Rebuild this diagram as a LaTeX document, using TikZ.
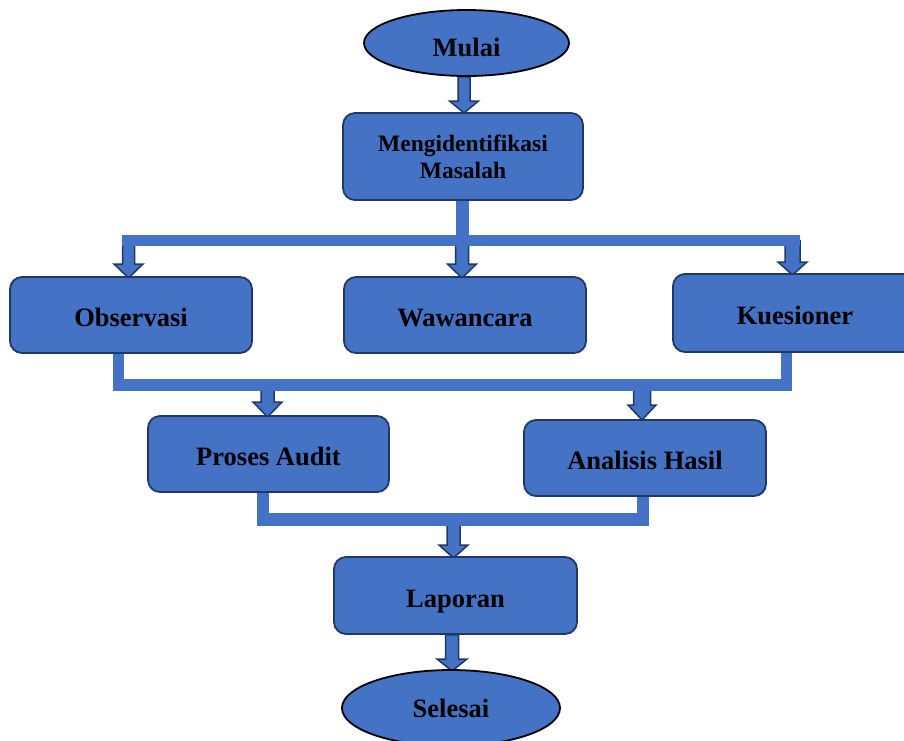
\documentclass[tikz,border=0pt]{standalone}
\usepackage{fontspec}
\setmainfont{Liberation Serif}
\usetikzlibrary{calc,shapes.geometric,backgrounds}
\definecolor{boxblue}{HTML}{4472C4}
\definecolor{navy}{HTML}{1F3864}

\tikzset{
  procbox/.style={draw=navy, line width=1.8pt, fill=boxblue, rounded corners=12pt,
    inner sep=0pt, align=center, text height=23.5pt, text depth=0pt,
    font=\fontsize{26.5}{30}\selectfont\bfseries},
  terminal/.style={ellipse, draw=black, line width=1.8pt, fill=boxblue, inner sep=0pt,
    text height=26pt, text depth=0pt, font=\fontsize{26.5}{30}\selectfont\bfseries},
  bar/.style={draw=boxblue, line width=11.5pt, line join=miter, line cap=butt},
  blockarrow/.style={draw=navy, line width=1.5pt, fill=boxblue, line join=miter},
}

% downward block arrow: #1 start, #2 tip, #3 shaft half width, #4 head half width, #5 head length
\newcommand{\blockdown}[5]{%
  \coordinate (ba-top) at (#2 |- #1);
  \draw[blockarrow] ($(ba-top)+(-#3,0)$) -- ($(#2)+(-#3,-#5)$) -- ($(#2)+(-#4,-#5)$)
    -- (#2) -- ($(#2)+(#4,-#5)$) -- ($(#2)+(#3,-#5)$) -- ($(ba-top)+(#3,0)$) -- cycle;}

\begin{document}
\begin{tikzpicture}[x=1pt, y=-1pt]
\useasboundingbox (0,0) rectangle (904,740);
\clip (0,0) rectangle (904,740);

% nodes
\node[terminal, minimum width=205pt, minimum height=66pt] (mulai) at (466.5,43) {Mulai};
\node[procbox, minimum width=240pt, minimum height=87pt, text height=, text depth=,
  font=\fontsize{23.5}{27}\selectfont\bfseries] (ident) at (463,156.5) {Mengidentifikasi\\Masalah};
\node[procbox, minimum width=242pt, minimum height=76pt] (obs) at (131,315) {Observasi};
\node[procbox, minimum width=242pt, minimum height=76pt] (waw) at (465,315) {Wawancara};
\node[procbox, minimum width=244pt, minimum height=78pt] (kue) at (795,313) {Kuesioner};
\node[procbox, minimum width=241pt, minimum height=76pt] (audit) at (268.5,454) {Proses Audit};
\node[procbox, minimum width=242pt, minimum height=76pt] (hasil) at (645,458) {Analisis Hasil};
\node[procbox, minimum width=243pt, minimum height=77pt] (lap) at (455.5,595.5) {Laporan};
\node[terminal, minimum width=218pt, minimum height=76pt, text height=18pt] (selesai) at (451,708) {Selesai};

% junction points of the connector bars
\coordinate (b1l) at (122,240.5);
\coordinate (b1m) at (462.5,240.5);
\coordinate (b1r) at (800,240.5);
\coordinate (m1l) at (118.5,385);
\coordinate (m1r) at (786.5,385);
\coordinate (m1a) at (267.5,385);
\coordinate (m1b) at (642,385);
\coordinate (m2l) at (263,519.5);
\coordinate (m2m) at (453.5,519.5);
\coordinate (m2r) at (643,519.5);

% arrow tips
\coordinate (t0) at (464,113);
\coordinate (t1) at (128.5,278);
\coordinate (t2) at (462,278);
\coordinate (t3) at (792.5,275);
\coordinate (t4) at (267.5,417);
\coordinate (t5) at (642,420);
\coordinate (t6) at (453.5,558);
\coordinate (t7) at (452,671);

\begin{scope}[on background layer]
  % block arrows
  \blockdown{mulai.south}{t0}{6}{14.5}{12}
  \blockdown{b1l}{t1}{6}{14.5}{14}
  \blockdown{b1m}{t2}{6.5}{14.5}{14}
  \blockdown{b1r}{t3}{7.5}{14.5}{13}
  \blockdown{m1a}{t4}{6.5}{14.5}{15}
  \blockdown{m1b}{t5}{8.5}{14}{15}
  \blockdown{m2m}{t6}{6.5}{14.5}{13}
  \blockdown{lap.south}{t7}{6.5}{15}{12}
  % split bar below the problem identification
  \draw[bar, line width=13pt] (ident.south -| b1m) -- (b1m);
  \draw[bar] (b1l) -- (b1r);
  % merge bar of the three data collection steps
  \draw[bar] (obs.south -| m1l) -- (m1l) -- (m1r) -- (kue.south -| m1r);
  % merge bar of audit and analysis
  \draw[bar, line width=12.5pt] (audit.south -| m2l) -- (m2l) -- (m2r) -- (hasil.south -| m2r);
\end{scope}
\end{tikzpicture}
\end{document}
